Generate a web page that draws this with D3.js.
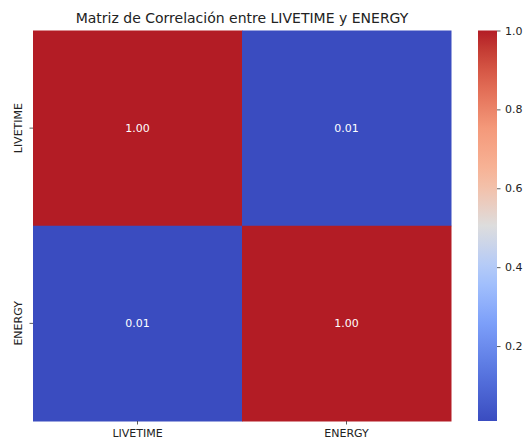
<!DOCTYPE html>
<html lang="en">
<head>
<meta charset="utf-8">
<title>Matriz de Correlación</title>
<script src="https://cdn.jsdelivr.net/npm/d3@7"></script>
<style>
  body { margin: 0; background: #fff; font-family: 'DejaVu Sans', sans-serif; }
</style>
</head>
<body>
<div id="chart"></div>
<script>

/* Data */
var variables = ['LIVETIME', 'ENERGY'];
var matrix = [
  [1.00, 0.01],
  [0.01, 1.00]
];
var barTicks = [0.2, 0.4, 0.6, 0.8, 1.0];

/* Layout */
var width = 525, height = 443;
var plot = { left: 33, top: 30.5, right: 451, bottom: 421 };
var bar = { left: 478, right: 497 };

var svg = d3.select('#chart').append('svg')
    .attr('width', width)
    .attr('height', height);

// coolwarm colormap (matplotlib) approximation
var coolwarmStops = [
  [58, 76, 192], [87, 118, 224], [124, 159, 249], [170, 199, 253],
  [221, 221, 221], [247, 184, 156], [244, 153, 122], [221, 98, 77], [179, 28, 37]
].map(function(c) { return d3.rgb(c[0], c[1], c[2]); });
var coolwarm = d3.scaleLinear()
    .domain(d3.range(coolwarmStops.length).map(function(i) { return i / (coolwarmStops.length - 1); }))
    .range(coolwarmStops)
    .interpolate(d3.interpolateLab);

var flat = d3.merge(matrix);
var vmin = d3.min(flat), vmax = d3.max(flat);
var color = function(v) { return coolwarm((v - vmin) / (vmax - vmin)); };

var x = d3.scaleBand().domain(variables).range([plot.left, plot.right]);
var y = d3.scaleBand().domain(variables).range([plot.top, plot.bottom]);

/* Cells */
var cells = [];
matrix.forEach(function(row, i) {
  row.forEach(function(v, j) { cells.push({ r: variables[i], c: variables[j], v: v }); });
});

svg.selectAll('rect.cell').data(cells).enter().append('rect')
    .attr('class', 'cell')
    .attr('x', function(d) { return x(d.c); })
    .attr('y', function(d) { return y(d.r); })
    .attr('width', x.bandwidth() + 0.5)
    .attr('height', y.bandwidth() + 0.5)
    .attr('fill', function(d) { return color(d.v); });

svg.selectAll('text.annot').data(cells).enter().append('text')
    .attr('class', 'annot')
    .attr('x', function(d) { return x(d.c) + x.bandwidth() / 2; })
    .attr('y', function(d) { return y(d.r) + y.bandwidth() / 2; })
    .attr('dy', '0.35em')
    .attr('text-anchor', 'middle')
    .attr('font-size', '11px')
    .attr('fill', '#fff')
    .text(function(d) { return d.v.toFixed(2); });

/* Axes */
var xAxis = svg.append('g')
    .attr('transform', 'translate(0,' + plot.bottom + ')')
    .call(d3.axisBottom(x).tickSize(3.5).tickPadding(4.5));
var yAxis = svg.append('g')
    .attr('transform', 'translate(' + plot.left + ',0)')
    .call(d3.axisLeft(y).tickSize(3.5).tickPadding(3.5));

[xAxis, yAxis].forEach(function(g) {
  g.select('.domain').remove();
  g.selectAll('.tick line').attr('stroke', '#333').attr('stroke-width', 0.8);
  g.selectAll('.tick text').attr('font-size', '11px').attr('fill', '#222')
      .attr('font-family', "'DejaVu Sans', sans-serif");
});

yAxis.selectAll('.tick text')
    .attr('text-anchor', 'middle')
    .attr('x', null).attr('dy', null)
    .attr('transform', 'translate(-11,0) rotate(-90)');

/* Title */
svg.append('text')
    .attr('x', (plot.left + plot.right) / 2)
    .attr('y', 23)
    .attr('text-anchor', 'middle')
    .attr('font-size', '14px')
    .attr('fill', '#222')
    .text('Matriz de Correlación entre LIVETIME y ENERGY');

/* Colorbar */
var defs = svg.append('defs');
var grad = defs.append('linearGradient')
    .attr('id', 'cbar')
    .attr('x1', 0).attr('y1', 1).attr('x2', 0).attr('y2', 0);
d3.range(0, 1.0001, 0.05).forEach(function(t) {
  grad.append('stop').attr('offset', t).attr('stop-color', coolwarm(t));
});

svg.append('rect')
    .attr('x', bar.left)
    .attr('y', plot.top)
    .attr('width', bar.right - bar.left)
    .attr('height', plot.bottom - plot.top)
    .attr('fill', 'url(#cbar)');

var cScale = d3.scaleLinear().domain([vmin, vmax]).range([plot.bottom, plot.top]);
var cAxis = svg.append('g')
    .attr('transform', 'translate(' + bar.right + ',0)')
    .call(d3.axisRight(cScale).tickValues(barTicks).tickFormat(d3.format('.1f')).tickSize(3.5).tickPadding(4.5));
cAxis.select('.domain').remove();
cAxis.selectAll('.tick line').attr('stroke', '#333').attr('stroke-width', 0.8);
cAxis.selectAll('.tick text').attr('font-size', '11px').attr('fill', '#222')
    .attr('font-family', "'DejaVu Sans', sans-serif");

</script>
</body>
</html>
